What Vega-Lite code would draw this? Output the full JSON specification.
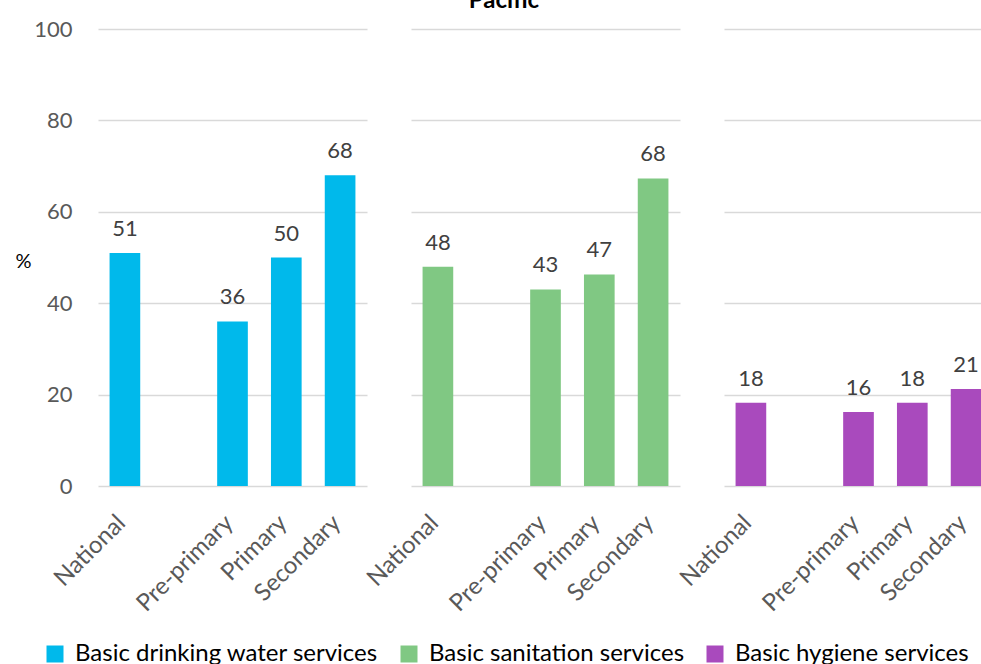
{
  "$schema": "https://vega.github.io/schema/vega-lite/v6.json",
  "padding": {"left": 14, "top": -11, "right": 0, "bottom": 0},
  "background": "white",
  "title": {"text": "Pacific", "fontSize": 24, "fontWeight": "bold", "font": "Lato", "color": "#000000", "offset": 5, "anchor": "middle"},
  "data": {"values": [
    {"service": "Basic drinking water services", "level": "National", "value": 51, "label": "51"},
    {"service": "Basic drinking water services", "level": "Pre-primary", "value": 36, "label": "36"},
    {"service": "Basic drinking water services", "level": "Primary", "value": 50, "label": "50"},
    {"service": "Basic drinking water services", "level": "Secondary", "value": 68, "label": "68"},
    {"service": "Basic sanitation services", "level": "National", "value": 48, "label": "48"},
    {"service": "Basic sanitation services", "level": "Pre-primary", "value": 43, "label": "43"},
    {"service": "Basic sanitation services", "level": "Primary", "value": 46.3, "label": "47"},
    {"service": "Basic sanitation services", "level": "Secondary", "value": 67.3, "label": "68"},
    {"service": "Basic hygiene services", "level": "National", "value": 18.2, "label": "18"},
    {"service": "Basic hygiene services", "level": "Pre-primary", "value": 16.2, "label": "16"},
    {"service": "Basic hygiene services", "level": "Primary", "value": 18.2, "label": "18"},
    {"service": "Basic hygiene services", "level": "Secondary", "value": 21.2, "label": "21"}
  ]},
  "facet": {"column": {"field": "service", "type": "nominal", "sort": ["Basic drinking water services", "Basic sanitation services", "Basic hygiene services"], "header": {"labels": false, "title": null}}},
  "spacing": {"column": 44},
  "spec": {
    "width": 269,
    "height": 457,
    "encoding": {
      "x": {"field": "level", "type": "nominal", "title": null,
        "scale": {"domain": ["National", " ", "Pre-primary", "Primary", "Secondary"], "paddingInner": 0.43, "paddingOuter": 0.215},
        "axis": {"labelAngle": -45, "labelAlign": "right", "labelBaseline": "middle", "labelFontSize": 24, "labelColor": "#595959", "labelFont": "Lato", "domain": false, "ticks": false, "labelPadding": 33, "labelOffset": -3, "grid": false}},
      "y": {"field": "value", "type": "quantitative",
        "scale": {"domain": [0, 100]},
        "axis": {"values": [0, 20, 40, 60, 80, 100], "grid": true, "gridColor": "#D9D9D9", "gridWidth": 1.3, "domain": false, "ticks": false, "labelPadding": 26, "labelFontSize": 22, "labelColor": "#595959", "labelFont": "Lato", "title": "%", "titleAngle": 0, "titleX": -75, "titleY": 232, "titleAlign": "center", "titleBaseline": "middle", "titleFontSize": 20, "titleFontWeight": "normal", "titleColor": "#000000", "titleFont": "Lato"}}
    },
    "layer": [
      {"mark": {"type": "bar"},
       "encoding": {"color": {"field": "service", "type": "nominal",
         "scale": {"domain": ["Basic drinking water services", "Basic sanitation services", "Basic hygiene services"], "range": ["#00B9EB", "#80C883", "#A94ABD"]},
         "legend": {"orient": "none", "legendX": -55, "legendY": 613, "direction": "horizontal", "title": null, "symbolType": "square", "symbolSize": 289, "symbolStrokeWidth": 0, "labelFontSize": 24, "labelFont": "Lato", "labelColor": "#000000", "labelOffset": 8, "columnPadding": 18, "labelLimit": 400}}}},
      {"mark": {"type": "text", "baseline": "bottom", "dy": -12, "fontSize": 22, "font": "Lato", "color": "#404040"},
       "encoding": {"text": {"field": "label", "type": "nominal"}}}
    ]
  },
  "config": {"view": {"stroke": null}}
}
